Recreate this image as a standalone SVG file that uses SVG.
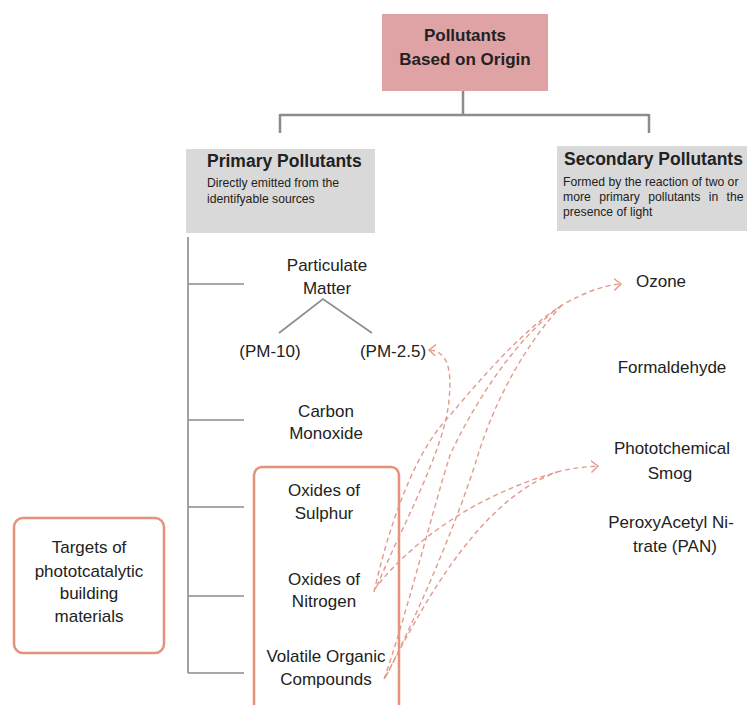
<svg xmlns="http://www.w3.org/2000/svg" width="747" height="705" viewBox="0 0 747 705">
<style>
text{font-family:"Liberation Sans",Arial,sans-serif;fill:#222}
.lbl{font-size:17px;text-anchor:middle}
.hdr{font-size:17.5px;font-weight:bold}
.sub{font-size:12.2px}
.tree{stroke:#8c8c8c;stroke-width:1.6;fill:none}
.conn{stroke:#8c8c8c;stroke-width:2.5;fill:none}
.dash{stroke:#e39a8c;stroke-width:1.4;fill:none;stroke-dasharray:5 3.5}
.obox{fill:#fff;stroke:#e4937a;stroke-width:2.5}
</style>
<defs>
<marker id="arr" markerUnits="userSpaceOnUse" markerWidth="12" markerHeight="14" refX="7" refY="6" orient="auto">
<path d="M0,0 L7,6 L0,12" fill="none" stroke="#e39a8c" stroke-width="1.4"/>
</marker>
</defs>
<rect width="747" height="705" fill="#fff"/>

<g id="connectors">
<path class="conn" d="M463,91 V115 M280,115 H649 M280,114 V133 M649,114 V133"/>
<path class="tree" d="M188,237 V673 M188,284 H244 M188,420 H244 M188,507 H244 M188,596 H244 M188,673 H244"/>
<path class="tree" d="M279,333 L323,299 L372,333"/>
</g>

<g id="root">
<rect x="382" y="14" width="166" height="77" fill="#e0a3a5"/>
<text x="465" y="41" font-size="17" font-weight="bold" text-anchor="middle">Pollutants</text>
<text x="465" y="65" font-size="17" font-weight="bold" text-anchor="middle">Based on Origin</text>
</g>

<g id="primary">
<rect x="186" y="149" width="189" height="84" fill="#d9d9d9"/>
<text class="hdr" x="207" y="167">Primary Pollutants</text>
<text class="sub" x="207" y="187">Directly emitted from the</text>
<text class="sub" x="207" y="203">identifyable sources</text>
</g>

<g id="secondary">
<rect x="557" y="146" width="200" height="85" fill="#d9d9d9"/>
<text class="hdr" x="564" y="165">Secondary Pollutants</text>
<text class="sub" x="563" y="186">Formed by the reaction of two or</text>
<text class="sub" x="563" y="201" word-spacing="5">more primary pollutants in the</text>
<text class="sub" x="563" y="216">presence of light</text>
</g>

<g id="pm">
<text class="lbl" x="327" y="271">Particulate</text>
<text class="lbl" x="327" y="294">Matter</text>
</g>
<g id="pm10"><text class="lbl" x="270" y="357">(PM-10)</text></g>
<g id="pm25"><text class="lbl" x="393" y="357">(PM-2.5)</text></g>
<g id="co">
<text class="lbl" x="326" y="417">Carbon</text>
<text class="lbl" x="326" y="439">Monoxide</text>
</g>

<g id="targets-box">
<rect class="obox" x="254" y="467" width="145" height="250" rx="8"/>
</g>
<g id="sox">
<text class="lbl" x="324" y="496">Oxides of</text>
<text class="lbl" x="324" y="519">Sulphur</text>
</g>
<g id="nox">
<text class="lbl" x="324" y="585">Oxides of</text>
<text class="lbl" x="324" y="607">Nitrogen</text>
</g>
<g id="voc">
<text class="lbl" x="326" y="662">Volatile Organic</text>
<text class="lbl" x="326" y="685">Compounds</text>
</g>

<g id="targets">
<rect class="obox" x="14" y="518" width="150" height="135" rx="9"/>
<text class="lbl" x="89" y="553">Targets of</text>
<text class="lbl" x="89" y="577">phototcatalytic</text>
<text class="lbl" x="89" y="599">building</text>
<text class="lbl" x="89" y="622">materials</text>
</g>

<g id="ozone"><text class="lbl" x="661" y="287">Ozone</text></g>
<g id="formaldehyde"><text class="lbl" x="672" y="373">Formaldehyde</text></g>
<g id="smog">
<text class="lbl" x="672" y="454">Phototchemical</text>
<text class="lbl" x="670" y="479">Smog</text>
</g>
<g id="pan">
<text class="lbl" x="671" y="528">PeroxyAcetyl Ni-</text>
<text class="lbl" x="675" y="552">trate (PAN)</text>
</g>

<g id="dashed-connectors">
<path class="dash" marker-end="url(#arr)" d="M377,586 C400,530 445,450 449,400 C452,370 448,351 429,350"/>
<path class="dash" marker-end="url(#arr)" d="M374,592 C388,530 410,465 440,427 C466,397 515,335 562,305 C585,292 605,285 621,284"/>
<path class="dash" d="M384,679 C405,620 430,520 450,455 C478,395 520,335 562,305"/>
<path class="dash" d="M386,676 C410,630 455,530 478,455 C495,400 525,345 562,305"/>
<path class="dash" marker-end="url(#arr)" d="M374,590 C400,555 460,500 557,472 C572,468 585,467 598,466"/>
<path class="dash" d="M385,678 C425,600 480,500 557,472"/>
</g>
</svg>
